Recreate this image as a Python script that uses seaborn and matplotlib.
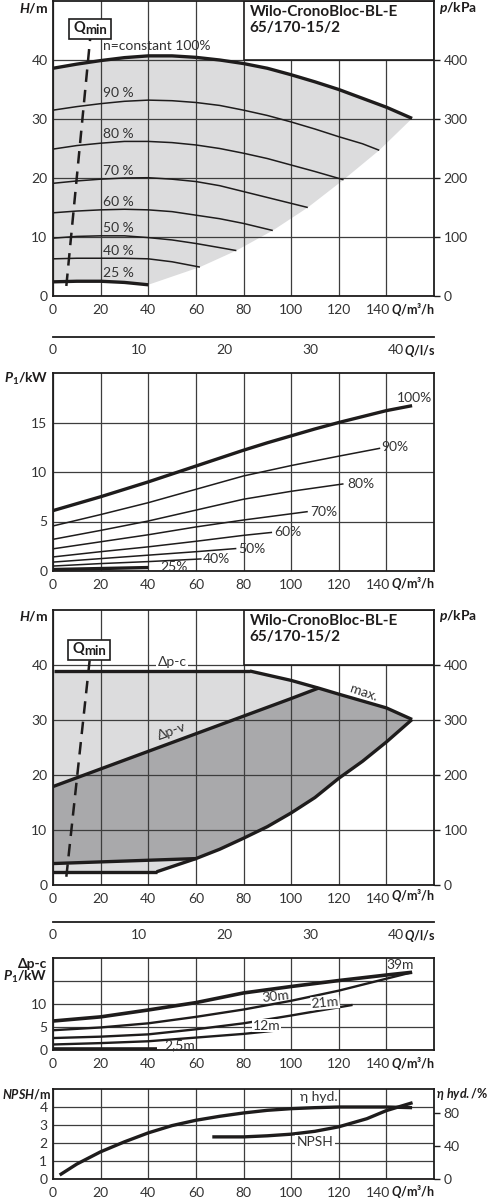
import numpy as np
import pandas as pd
import seaborn as sns
import matplotlib.pyplot as plt
from matplotlib.patches import Rectangle

sns.set_theme(style="white")
plt.rcParams['font.family'] = ['Lato', 'DejaVu Sans']
plt.rcParams['mathtext.fontset'] = 'custom'
plt.rcParams['mathtext.rm'] = 'Lato:bold'
plt.rcParams['mathtext.bf'] = 'Lato:bold'
plt.rcParams['mathtext.it'] = 'Lato:italic:bold'

# ---------------- data ----------------
# panel 1: H(Q) per speed
q_100 = [0, 10, 20, 30, 40, 50, 60, 70, 80, 90, 100, 110, 120, 130, 140, 150.8]
h_100 = [38.6, 39.3, 39.9, 40.4, 40.7, 40.7, 40.45, 40.0, 39.4, 38.6, 37.5, 36.3, 35.0, 33.5, 32.0, 30.1]
q_90 = [0, 10, 20, 30, 40, 50, 60, 70, 80, 90, 100, 110, 120, 130, 137]
h_90 = [31.5, 32.1, 32.6, 33.0, 33.2, 33.1, 32.8, 32.3, 31.5, 30.6, 29.5, 28.3, 27.0, 25.8, 24.7]
q_80 = [0, 10, 20, 30, 40, 50, 60, 70, 80, 90, 100, 110, 122]
h_80 = [24.9, 25.5, 25.9, 26.2, 26.2, 26.0, 25.6, 25.0, 24.2, 23.3, 22.2, 21.1, 19.7]
q_70 = [0, 10, 20, 30, 40, 50, 60, 70, 80, 90, 100, 107]
h_70 = [19.1, 19.5, 19.8, 20.0, 20.05, 19.8, 19.4, 18.7, 17.7, 16.7, 15.7, 15.0]
q_60 = [0, 10, 20, 30, 40, 50, 60, 70, 80, 92.3]
h_60 = [14.1, 14.4, 14.6, 14.7, 14.6, 14.3, 13.7, 13.1, 12.3, 11.1]
q_50 = [0, 10, 20, 30, 40, 50, 60, 70, 77]
h_50 = [9.8, 10.1, 10.2, 10.2, 9.9, 9.5, 8.9, 8.2, 7.7]
q_40 = [0, 10, 20, 30, 40, 50, 61.7]
h_40 = [6.3, 6.4, 6.4, 6.4, 6.3, 5.8, 4.9]
q_25 = [0, 10, 20, 30, 40]
h_25 = [2.4, 2.5, 2.5, 2.3, 1.9]
q_edge = [40, 61.7, 77, 92.3, 107, 122, 137, 150.8]
h_edge = [1.9, 4.9, 7.7, 11.1, 15.0, 19.7, 24.7, 30.1]
speed_labels = ["n=constant 100%", "90 %", "80 %", "70 %", "60 %", "50 %", "40 %", "25 %"]
speed_label_h = [42.3, 34.35, 27.4, 21.2, 16.0, 11.5, 7.7, 3.95]

# panel 2: P1(Q) per speed
p_q100 = [0, 10, 20, 30, 40, 50, 60, 70, 80, 90, 100, 110, 120, 130, 140, 150.8]
p_100 = [6.1, 6.8, 7.5, 8.25, 9.0, 9.8, 10.6, 11.4, 12.2, 12.95, 13.65, 14.35, 15.0, 15.6, 16.2, 16.7]
p_q90 = [0, 20, 40, 60, 80, 100, 120, 137.4]
p_90 = [4.55, 5.7, 6.9, 8.25, 9.6, 10.65, 11.6, 12.4]
p_q80 = [0, 20, 40, 60, 80, 100, 122]
p_80 = [3.2, 4.1, 5.05, 6.15, 7.25, 8.05, 8.8]
p_q70 = [0, 20, 40, 60, 80, 107]
p_70 = [2.24, 2.95, 3.66, 4.45, 5.15, 6.0]
p_q60 = [0, 20, 40, 60, 80, 92]
p_60 = [1.42, 1.95, 2.44, 3.0, 3.6, 3.9]
p_q50 = [0, 20, 40, 60, 77]
p_50 = [0.9, 1.25, 1.6, 1.95, 2.27]
p_q40 = [0, 20, 40, 62.4]
p_40 = [0.5, 0.75, 0.95, 1.22]
p_q25 = [0, 40]
p_25 = [0.15, 0.35]
p_labels = ["100%", "90%", "80%", "70%", "60%", "50%", "40%", "25%"]
p_label_q = [151.6, 143.6, 129.3, 113.6, 98.8, 83.4, 68.5, 50.8]
p_label_v = [17.46, 12.54, 8.8, 6.0, 3.9, 2.27, 1.22, 0.4]

# panel 3: control envelope
dpc_q = [0.5, 82.7]
dpc_h = [38.9, 38.9]
max_q = [82.7, 100, 111.5, 120, 140, 150.8]
max_h = [38.9, 37.2, 35.8, 34.7, 32.2, 30.1]
low_q = [150.8, 140, 130, 120, 110, 100, 90, 80, 70, 60, 43.5]
low_h = [30.1, 26.0, 22.5, 19.4, 15.9, 13.1, 10.6, 8.5, 6.5, 4.8, 2.4]
min_c_q = [43.5, 0]
min_c_h = [2.4, 2.4]
dpv_q = [0, 20, 40, 60, 80, 100, 111.5]
dpv_h = [17.9, 21.1, 24.3, 27.5, 30.7, 33.9, 35.8]
dpv_low_q = [60, 0]
dpv_low_h = [4.8, 3.9]

# panel 4: P1 for dp-c set points
c_q39 = [0, 20, 40, 60, 80, 100, 120, 140, 150.8]
c_39 = [6.3, 7.2, 8.7, 10.3, 12.4, 13.8, 15.1, 16.3, 16.9]
c_q30 = [0, 20, 40, 60, 80, 100, 120, 140, 150.8]
c_30 = [4.3, 4.9, 5.8, 7.2, 8.8, 10.7, 12.9, 15.5, 16.9]
c_q21 = [0, 20, 40, 60, 80, 100, 125.8]
c_21 = [2.6, 2.9, 3.4, 4.5, 5.8, 7.5, 9.8]
c_q12 = [0, 20, 40, 60, 80, 95]
c_12 = [1.2, 1.5, 1.9, 2.7, 3.5, 4.3]
c_q25 = [0, 43.5]
c_25 = [0.2, 0.2]

# panel 5: efficiency and NPSH
eta_q = [2.8, 10, 20, 30, 40, 50, 60, 70, 80, 90, 100, 110, 120, 130, 140, 150.8]
eta = [4.8, 18.0, 32.8, 44.8, 55.6, 64.4, 70.8, 75.6, 79.6, 82.8, 84.8, 86.0, 86.8, 86.8, 86.8, 86.0]
npsh_q = [66.9, 80, 90, 100, 110, 120, 131.8, 140, 151]
npsh = [2.34, 2.34, 2.4, 2.49, 2.65, 2.9, 3.35, 3.8, 4.24]

x_ticks = [0, 20, 40, 60, 80, 100, 120, 140]
x_labels = ['0', '20', '40', '60', '80', '100', '120', '']
ls_ticks = [0, 10, 20, 30, 40]

# ---------------- layout ----------------
INK = '#1e1c1c'
TXT = '#333333'
GRID = '#3d3d3d'
FS = 10
UNIT_FS = 9
fig = plt.figure(figsize=(4.9, 12), dpi=100)
L, W = 53 / 490, 381 / 490


def box(top, bottom):
    return [L, 1 - bottom / 1200, W, (bottom - top) / 1200]


def fx(px):
    return px / 490


def fy(py):
    return 1 - py / 1200


def style(ax, ylim, yticks, ylabels=None):
    ax.set_xlim(0, 160)
    ax.set_ylim(*ylim)
    ax.set_xticks(x_ticks, labels=x_labels)
    ax.set_yticks(yticks)
    if ylabels is not None:
        ax.set_yticklabels(ylabels)
    ax.set_axisbelow(True)
    ax.grid(True, color=GRID, lw=0.9)
    ax.tick_params(axis='both', length=0, labelsize=FS, colors=TXT)
    ax.tick_params(axis='x', pad=5.5)
    ax.tick_params(axis='y', pad=4)
    ax.set_xlabel('')
    ax.set_ylabel('')
    for s in ax.spines.values():
        s.set_color(INK)
        s.set_linewidth(1.3)
        s.set_visible(True)
    # last tick label sits a bit left of its tick, snug against the unit label
    ax.annotate(str(x_ticks[-1]), xy=(x_ticks[-1], 0), xycoords=('data', 'axes fraction'),
                xytext=(2.6, -5.5), textcoords='offset points', ha='right', va='top',
                fontsize=FS, color=TXT)


def right_axis(ax, ylim, ticks):
    r = ax.twinx()
    r.set_ylim(*ylim)
    r.set_yticks(ticks)
    r.tick_params(axis='y', direction='out', length=4, width=1, color=INK,
                  labelsize=FS, labelcolor=TXT, pad=3)
    r.grid(False)
    for s in r.spines.values():
        s.set_visible(False)
    return r


def ls_axis(py):
    a = fig.add_axes([L, fy(py), W, 1e-4])
    a.set_xlim(0, 160 / 3.6)
    a.set_xticks(ls_ticks)
    a.set_yticks([])
    a.patch.set_alpha(0)
    for k in ['top', 'left', 'right']:
        a.spines[k].set_visible(False)
    a.spines['bottom'].set_color(INK)
    a.spines['bottom'].set_linewidth(1.3)
    a.tick_params(axis='x', direction='in', length=5, width=1, color=INK,
                  labelsize=FS, labelcolor=TXT, pad=5)
    fig.text(fx(435), fy(py + 14), r"$\mathit{Q}$/l/s", ha='right', va='center',
             fontsize=UNIT_FS, fontweight='bold', color=INK)


def curve(ax, q, v, lw):
    sns.lineplot(x=q, y=v, ax=ax, color=INK, lw=lw, sort=False, estimator=None,
                 legend=False, zorder=3, solid_capstyle='butt')


def qlabel(py):
    fig.text(fx(435), fy(py), r"$\mathit{Q}$/m³/h", ha='right', va='center',
             fontsize=UNIT_FS, fontweight='bold', color=INK)


def qmin_box(ax, x0, y0, w, h):
    ax.add_patch(Rectangle((x0, y0), w, h, facecolor='white', edgecolor=INK, lw=1.2, zorder=5))
    tq = ax.text(x0 + 1.7, y0 + h * 0.55, "Q", ha='left', va='center', fontsize=10.5,
                 fontweight='bold', color=INK, zorder=6)
    ax.annotate("min", xy=(1, 0), xycoords=tq, xytext=(0.4, -0.8), textcoords='offset points',
                ha='left', va='bottom', fontsize=9.5, fontweight='bold', color=INK, zorder=6)


title = "Wilo-CronoBloc-BL-E\n65/170-15/2"

# ---------------- panel 1: H(Q) ----------------
ax1 = fig.add_axes(box(1, 296))
style(ax1, (0, 50), [0, 10, 20, 30, 40])
poly_q = q_100 + q_edge[::-1] + q_25[::-1]
poly_h = h_100 + h_edge[::-1] + h_25[::-1]
ax1.fill(poly_q, poly_h, color='#dcdcdd', lw=0, zorder=0.2)
curve(ax1, q_100, h_100, 2.4)
for q, h in [(q_90, h_90), (q_80, h_80), (q_70, h_70), (q_60, h_60), (q_50, h_50), (q_40, h_40)]:
    curve(ax1, q, h, 1.1)
curve(ax1, q_25, h_25, 2.4)
for lab, hy in zip(speed_labels, speed_label_h):
    ax1.text(21.2, hy, lab, ha='left', va='center', fontsize=FS, color=TXT, zorder=4)
ax1.add_patch(Rectangle((80, 40), 80, 10, facecolor='white', edgecolor=INK, lw=1.2, zorder=2))
ax1.text(82.5, 49.4, title, ha='left', va='top', fontsize=11, fontweight='bold',
         color=INK, linespacing=1.2, zorder=4)
ax1.plot([5.6, 15.6], [1.7, 43.6], color=INK, lw=1.8, ls=(0, (5, 3.2)), zorder=3)
qmin_box(ax1, 6.7, 43.6, 17.6, 3.3)
right_axis(ax1, (0, 500), [0, 100, 200, 300, 400])
fig.text(fx(48), fy(8), r"$\mathit{H}$/m", ha='right', va='center', fontsize=FS,
         fontweight='bold', color=INK)
fig.text(fx(439), fy(8), r"$\mathit{p}$/kPa", ha='left', va='center', fontsize=FS,
         fontweight='bold', color=INK)
qlabel(310)
ls_axis(337)

# ---------------- panel 2: P1(Q) ----------------
ax2 = fig.add_axes(box(373, 571))
style(ax2, (0, 20), [0, 5, 10, 15])
curve(ax2, p_q100, p_100, 2.4)
for q, p in [(p_q90, p_90), (p_q80, p_80), (p_q70, p_70), (p_q60, p_60), (p_q50, p_50), (p_q40, p_40)]:
    curve(ax2, q, p, 1.1)
curve(ax2, p_q25, p_25, 2.4)
for lab, qx, pv in zip(p_labels, p_label_q, p_label_v):
    ax2.text(qx, pv, lab, ha='center', va='center', fontsize=FS, color=TXT, zorder=4)
fig.text(fx(48), fy(379), r"$\mathit{P}_\mathit{1}$/kW", ha='right', va='center',
         fontsize=FS, fontweight='bold', color=INK)
qlabel(584)

# ---------------- panel 3: control modes ----------------
ax3 = fig.add_axes(box(610, 885))
style(ax3, (0, 50), [0, 10, 20, 30, 40])
light_q = [0] + dpc_q + max_q[1:] + low_q[1:] + min_c_q[1:]
light_h = [2.4] + dpc_h + max_h[1:] + low_h[1:] + min_c_h[1:]
ax3.fill(light_q, light_h, color='#dcdcdd', lw=0, zorder=0.2)
dark_q = dpv_q + max_q[3:] + low_q[1:10] + dpv_low_q[1:]
dark_h = dpv_h + max_h[3:] + low_h[1:10] + dpv_low_h[1:]
ax3.fill(dark_q, dark_h, color='#a9a9ab', lw=0, zorder=0.3)
for q, h in [(dpc_q, dpc_h), (max_q, max_h), (low_q, low_h), (min_c_q, min_c_h),
             (dpv_q, dpv_h), (dpv_low_q, dpv_low_h)]:
    curve(ax3, q, h, 2.4)
ax3.text(50, 40.6, "Δp-c", ha='center', va='center', fontsize=FS, color=TXT, zorder=4,
         bbox=dict(boxstyle='square,pad=0.1', fc='white', ec='none'))
ax3.text(49.8, 27.9, "Δp-v", ha='center', va='center', fontsize=FS, color=TXT,
         rotation=20, zorder=4)
ax3.text(130.4, 34.9, "max.", ha='center', va='center', fontsize=FS, color=TXT,
         rotation=-19, zorder=4)
ax3.add_patch(Rectangle((80, 40), 80, 10, facecolor='white', edgecolor=INK, lw=1.2, zorder=2))
ax3.text(82.5, 49.3, title, ha='left', va='top', fontsize=11, fontweight='bold',
         color=INK, linespacing=1.2, zorder=4)
ax3.plot([5.6, 15.4], [1.5, 40.9], color=INK, lw=1.8, ls=(0, (5, 3.2)), zorder=3)
qmin_box(ax3, 6.3, 40.9, 17.5, 3.6)
right_axis(ax3, (0, 500), [0, 100, 200, 300, 400])
fig.text(fx(48), fy(616), r"$\mathit{H}$/m", ha='right', va='center', fontsize=FS,
         fontweight='bold', color=INK)
fig.text(fx(439), fy(616), r"$\mathit{p}$/kPa", ha='left', va='center', fontsize=FS,
         fontweight='bold', color=INK)
qlabel(896)
ls_axis(922)

# ---------------- panel 4: P1 at dp-c ----------------
ax4 = fig.add_axes(box(958, 1050))
style(ax4, (0, 20), [0, 5, 10, 15], ['0', '5', '10', ''])
curve(ax4, c_q39, c_39, 2.6)
curve(ax4, c_q30, c_30, 1.7)
curve(ax4, c_q21, c_21, 1.7)
curve(ax4, c_q12, c_12, 1.7)
curve(ax4, c_q25, c_25, 2.6)
lab_kw = dict(ha='center', va='center', fontsize=FS, color=TXT, zorder=4)
ax4.text(145.9, 18.5, "39m", **lab_kw)
ax4.text(93.3, 11.6, "30m", rotation=6, **lab_kw)
ax4.text(114.3, 10.3, "21m", rotation=5,
         bbox=dict(boxstyle='square,pad=0.05', fc='white', ec='none'), **lab_kw)
ax4.text(89.8, 5.3, "12m",
         bbox=dict(boxstyle='square,pad=0.05', fc='white', ec='none'), **lab_kw)
ax4.text(53.3, 1.0, "2,5m", **lab_kw)
fig.text(fx(47), fy(964), "Δp-c", ha='right', va='center', fontsize=FS,
         fontweight='bold', color=INK)
fig.text(fx(47), fy(977), r"$\mathit{P}_\mathit{1}$/kW", ha='right', va='center',
         fontsize=FS, fontweight='bold', color=INK)
qlabel(1063)

# ---------------- panel 5: NPSH and efficiency ----------------
ax5 = fig.add_axes(box(1089, 1179))
style(ax5, (0, 5), [0, 1, 2, 3, 4])
ax5r = right_axis(ax5, (0, 108.5), [0, 40, 80])
curve(ax5r, eta_q, eta, 2.4)
curve(ax5, npsh_q, npsh, 2.4)
ax5.text(111.5, 4.55, "η hyd.", ha='center', va='center', fontsize=FS, color=TXT, zorder=4)
ax5.text(110.1, 2.04, "NPSH", ha='center', va='center', fontsize=FS, color=TXT, zorder=4,
         bbox=dict(boxstyle='square,pad=0.1', fc='white', ec='none'))
fig.text(fx(1.5), fy(1094), r"$\mathit{NPSH}$/m", ha='left', va='center', fontsize=9,
         fontweight='bold', color=INK)
fig.text(fx(436), fy(1094), r"$\mathit{η\ hyd.}$/%", ha='left', va='center',
         fontsize=9, fontweight='bold', color=INK)
qlabel(1191)

fig.savefig("out.png", dpi=100)
